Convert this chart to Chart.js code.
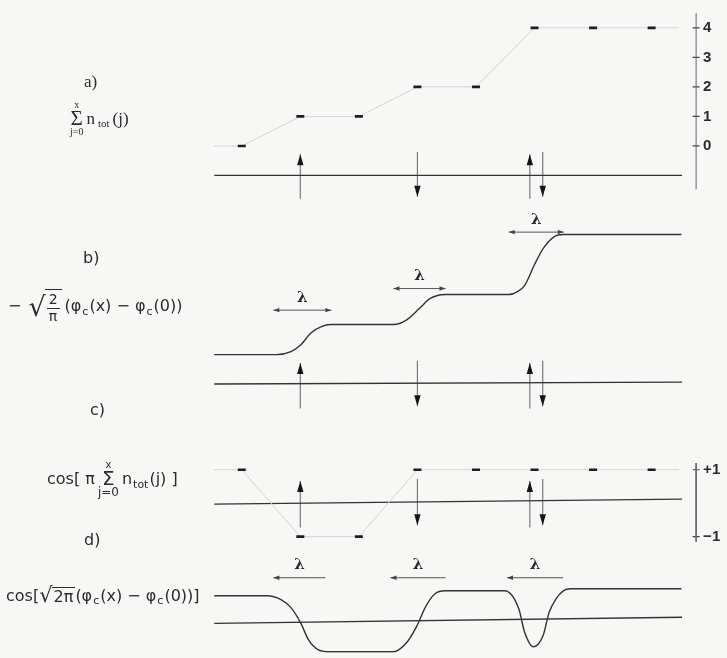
<!DOCTYPE html>
<html>
<head>
<meta charset="utf-8">
<title>Spin chain: occupation sums and bosonized field</title>
<script src="https://cdn.jsdelivr.net/npm/chart.js@4.4.1/dist/chart.umd.min.js"></script>
<style>
  body { margin: 0; background: #f7f7f6; }
  #wrap { position: relative; width: 727px; height: 658px; overflow: hidden; }
  #fig { position: absolute; left: 0; top: 0; }
  .txt { position: absolute; color: #2b2b2b; white-space: nowrap; line-height: 1; display: flex; align-items: center; }
  .serif { font-family: "Liberation Serif", "DejaVu Serif", serif; }
  .sans { font-family: "DejaVu Sans", "Noto Sans", sans-serif; }
  .sum { display: inline-flex; flex-direction: column; align-items: center; line-height: 1; margin: 0 3px; }
  .sum .lim { font-size: 10px; }
  .sum .sig { font-size: 20px; line-height: 0.8; }
  .sub { font-size: 11px; position: relative; top: 5px; margin: 0 1px; }
  .root { font-size: 27px; line-height: 1; margin-right: -1px; }
  .under { border-top: 1.2px solid #2b2b2b; padding: 2px 2px 0 2px; display: inline-flex; align-items: center; }
  .frac { display: inline-flex; flex-direction: column; align-items: center; font-size: 14px; line-height: 1.05; }
  .frac .num { border-bottom: 1.2px solid #2b2b2b; padding: 0 2px 1px 2px; }
</style>
</head>
<body>
<div id="wrap">
  <canvas id="fig" width="727" height="658"></canvas>

  <div class="txt serif" style="left:84px;top:73px;font-size:17px">a)</div>
  <div class="txt serif" style="left:67px;top:100px;font-size:17px">
    <span class="sum"><span class="lim">x</span><span class="sig" style="font-size:21px">Σ</span><span class="lim">j=0</span></span>
    <span>n</span><span class="sub" style="margin:0 3px">tot</span><span>(j)</span>
  </div>

  <div class="txt sans" style="left:83px;top:250px;font-size:16px">b)</div>
  <div class="txt sans" style="left:8px;top:289px;font-size:16px">
    <span style="margin-right:7px">−</span>
    <span class="root">√</span>
    <span class="under"><span class="frac"><span class="num">2</span><span>π</span></span></span>
    <span style="margin-left:3px">(φ</span><span class="sub">c</span><span>(x) − φ</span><span class="sub">c</span><span>(0))</span>
  </div>

  <div class="txt sans" style="left:47px;top:460px;font-size:16px">
    <span>cos[ π</span>
    <span class="sum"><span class="lim">x</span><span class="sig">Σ</span><span class="lim" style="font-size:12px">j=0</span></span>
    <span>n</span><span class="sub">tot</span><span>(j) ]</span>
  </div>
  <div class="txt sans" style="left:90px;top:402px;font-size:16px">c)</div>

  <div class="txt sans" style="left:84px;top:532px;font-size:16px">d)</div>
  <div class="txt sans" style="left:6px;top:585px;font-size:16px">
    <span>cos[</span>
    <span class="root" style="font-size:21px">√</span>
    <span class="under" style="padding-top:1px">2π</span>
    <span>(φ</span><span class="sub">c</span><span>(x) − φ</span><span class="sub">c</span><span>(0))]</span>
  </div>
</div>

<script>
// lattice sites and the two staircases read at each site
const sites = [0, 1, 2, 3, 4, 5, 6, 7];
const spinSum = [0, 1, 1, 2, 2, 4, 4, 4];
const cosSum = [1, -1, -1, 1, 1, 1, 1, 1];

// spins sitting on the chain: position and orientation (+1 up, -1 down)
const spinPos = [1, 3, 4.92, 5.14];
const spinDir = [1, -1, 1, -1];

// right-hand scales of panels a and c
const sumTicks = [0, 1, 2, 3, 4];
const cosTicks = [1, -1];
const cosTickLabels = ['+1', '−1'];

// smooth field of panel b
const phiX = [-0.47, 0.59, 0.84, 1.01, 1.18, 1.35, 1.52, 2.59, 2.81, 3.05, 3.22, 3.48, 4.56, 4.71, 4.83, 5.0, 5.15, 5.34, 5.5, 7.51];
const phiY = [0, 0, 0.1, 0.33, 0.72, 0.92, 1.0, 1.0, 1.15, 1.57, 1.87, 2.0, 2.0, 2.1, 2.3, 3.0, 3.54, 3.93, 4.0, 4.0];

// its cosine, panel d
const cosPhiX = [-0.47, 0.42, 0.67, 0.84, 1.01, 1.14, 1.31, 1.52, 2.59, 2.81, 2.98, 3.15, 3.3, 3.48, 4.49, 4.73, 4.83, 4.98, 5.15, 5.25, 5.37, 5.49, 5.62, 7.51];
const cosPhiY = [0.88, 0.88, 0.75, 0.47, -0.07, -0.64, -0.98, -1.05, -1.05, -0.75, -0.2, 0.54, 0.95, 1.05, 1.05, 0.44, -0.37, -0.88, -0.47, 0.31, 0.78, 1.05, 1.12, 1.12];

// width of each kink (lambda) in panels b and d
const lambdaB = [[0.54, 1.53], [2.59, 3.48], [4.56, 5.5]];
const lambdaD = [[0.54, 1.43], [2.54, 3.48], [4.53, 5.49]];

// ---- layout ----
const W = 727, H = 658;
const X0 = 240, XU = 59.4;            // pixel of site 0, pixels per site
const lineFrom = -0.47, lineTo = 7.52;
const axisX = 7.76;
const lambdaRowB = [1.48, 2.2, 4.08];
const lambdaRowD = [1.5, 1.5, 1.5];
const baseA = [-1, -1], baseB = [-0.98, -0.92], baseC = [-0.03, 0.12], baseD = [-0.07, 0.14];
const spinRows = [
  { axis: 'ya', base: -1, half: 0.72 },
  { axis: 'yb', base: -1, half: 0.72 },
  { axis: 'yc', base: 0, half: 0.66 }
];

const INK = '#333';
const FAINT = '#d4d4d4';

function rowScale(zeroPx, unitPx) {
  return { type: 'linear', display: false, min: (zeroPx - H) / unitPx, max: zeroPx / unitPx };
}

function pts(xs, ys) {
  return xs.map((x, i) => ({ x: x, y: ys[i] }));
}

// list of separate two-point segments, broken by gaps
function segments(list) {
  const out = [];
  list.forEach(([a, b]) => {
    out.push({ x: a[0], y: a[1] }, { x: b[0], y: b[1] }, { x: b[0], y: null });
  });
  return out;
}

function baseline(axis, ends) {
  return {
    yAxisID: axis, data: pts([lineFrom, lineTo], ends),
    borderColor: INK, borderWidth: 1.3, pointRadius: 0
  };
}

// staircase: faint joining line with a short bar on every site
function staircase(axis, values) {
  const n = values.length;
  const data = [{ x: lineFrom, y: values[0] }, ...pts(sites, values), { x: lineTo - 0.05, y: values[n - 1] }];
  return {
    yAxisID: axis, data: data,
    borderColor: FAINT, borderWidth: 1,
    pointStyle: 'line',
    pointRadius: c => (c.dataIndex === 0 || c.dataIndex === n + 1) ? 0 : 4,
    pointBorderColor: '#1e1e1e', pointBorderWidth: 2.6
  };
}

function spinShafts(row) {
  return {
    yAxisID: row.axis,
    data: segments(spinPos.map((x, i) => [[x, row.base - spinDir[i] * row.half * 1.1], [x, row.base + spinDir[i] * row.half]])),
    borderColor: '#7a7a7a', borderWidth: 1.2, pointRadius: 0
  };
}

function lambdaLines(axis, spans, rows) {
  return {
    yAxisID: axis,
    data: segments(spans.map((s, i) => [[s[0], rows[i]], [s[1], rows[i]]])),
    borderColor: '#555', borderWidth: 1, pointRadius: 0
  };
}

function axisLine(axis, from, to) {
  return {
    yAxisID: axis, data: pts([axisX, axisX], [from, to]),
    borderColor: '#666', borderWidth: 1, pointRadius: 0
  };
}

function axisMarks(axis, ticks) {
  return {
    yAxisID: axis, data: ticks.map(t => ({ x: axisX, y: t })),
    showLine: false, pointStyle: 'line', pointRadius: 3.5,
    pointBorderColor: '#444', pointBorderWidth: 1.2
  };
}

function head(ctx, px, py, dx, dy, len, half) {
  ctx.beginPath();
  ctx.moveTo(px, py);
  ctx.lineTo(px - dx * len - dy * half, py - dy * len + dx * half);
  ctx.lineTo(px - dx * len + dy * half, py - dy * len - dx * half);
  ctx.closePath();
  ctx.fill();
}

// arrow heads, lambda labels and right-hand tick labels
const marks = {
  id: 'marks',
  afterDatasetsDraw(chart) {
    const { ctx, scales } = chart;
    const sx = scales.x;
    ctx.save();
    ctx.fillStyle = '#151515';

    spinRows.forEach(row => {
      const sy = scales[row.axis];
      spinPos.forEach((x, i) => {
        const tip = row.base + spinDir[i] * row.half;
        head(ctx, sx.getPixelForValue(x), sy.getPixelForValue(tip), 0, -spinDir[i], 11, 3.2);
      });
    });

    ctx.fillStyle = '#444';
    lambdaB.forEach((s, i) => {
      const py = scales.yb.getPixelForValue(lambdaRowB[i]);
      head(ctx, sx.getPixelForValue(s[0]), py, -1, 0, 6, 2.2);
      head(ctx, sx.getPixelForValue(s[1]), py, 1, 0, 6, 2.2);
    });
    lambdaD.forEach((s, i) => {
      const py = scales.yd.getPixelForValue(lambdaRowD[i]);
      head(ctx, sx.getPixelForValue(s[0]), py, -1, 0, 6, 2.2);
    });

    ctx.fillStyle = '#2b2b2b';
    ctx.font = 'bold 15px "DejaVu Serif"';
    ctx.textAlign = 'center';
    ctx.textBaseline = 'bottom';
    const lam = (spans, rows, sy) => spans.forEach((s, i) => {
      ctx.fillText('λ', sx.getPixelForValue((s[0] + s[1]) / 2), sy.getPixelForValue(rows[i]) - 5);
    });
    lam(lambdaB, lambdaRowB, scales.yb);
    lam(lambdaD, lambdaRowD, scales.yd);

    ctx.font = 'bold 15px "Liberation Sans"';
    ctx.textAlign = 'left';
    ctx.textBaseline = 'middle';
    const lx = sx.getPixelForValue(axisX) + 7;
    sumTicks.forEach(t => ctx.fillText(String(t), lx, scales.ya.getPixelForValue(t)));
    cosTicks.forEach((t, i) => ctx.fillText(cosTickLabels[i], lx, scales.yc.getPixelForValue(t)));
    ctx.restore();
  }
};

new Chart(document.getElementById('fig'), {
  type: 'line',
  data: {
    datasets: [
      // panel a
      staircase('ya', spinSum),
      baseline('ya', baseA),
      spinShafts(spinRows[0]),
      axisLine('ya', -1.47, 4.5),
      axisMarks('ya', sumTicks),
      // panel b
      {
        yAxisID: 'yb', data: pts(phiX, phiY),
        borderColor: INK, borderWidth: 1.4, pointRadius: 0, cubicInterpolationMode: 'monotone'
      },
      baseline('yb', baseB),
      spinShafts(spinRows[1]),
      lambdaLines('yb', lambdaB, lambdaRowB),
      // panel c
      staircase('yc', cosSum),
      baseline('yc', baseC),
      spinShafts(spinRows[2]),
      axisLine('yc', 1.2, -1.15),
      axisMarks('yc', cosTicks),
      // panel d
      {
        yAxisID: 'yd', data: pts(cosPhiX, cosPhiY),
        borderColor: INK, borderWidth: 1.4, pointRadius: 0, cubicInterpolationMode: 'monotone'
      },
      baseline('yd', baseD),
      lambdaLines('yd', lambdaD, lambdaRowD)
    ]
  },
  options: {
    responsive: false,
    animation: false,
    devicePixelRatio: 1,
    layout: { padding: 0 },
    plugins: { legend: { display: false }, tooltip: { enabled: false } },
    elements: { line: { tension: 0 } },
    scales: {
      x: { type: 'linear', display: false, min: -X0 / XU, max: (W - X0) / XU },
      ya: rowScale(143, 30),
      yb: rowScale(355, 30.5),
      yc: rowScale(506, 34),
      yd: rowScale(626, 29.5)
    }
  },
  plugins: [marks]
});
</script>
</body>
</html>
